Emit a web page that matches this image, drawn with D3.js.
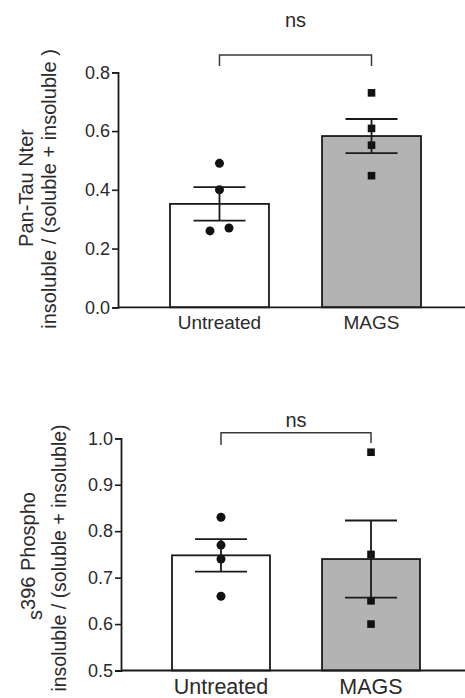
<html lang="en">
<head>
<style>
  body { margin: 0; background: #fff; }
  text { font-family: "Liberation Sans", Arial, sans-serif; fill: #2a2a2a; }
</style>
</head>
<body>
<script type='text/javascript' src='https://d3js.org/d3.v7.min.js'></script>
<script>
    // groups and values
    var groups = ["Untreated", "MAGS"];

    var panMeans = [0.352, 0.583];
    var panSem = [0.057, 0.058];
    var panPoints = [[0.49, 0.40, 0.26, 0.27], [0.73, 0.609, 0.552, 0.448]];
    var panTicks = [0.0, 0.2, 0.4, 0.6, 0.8];

    var phMeans = [0.748, 0.740];
    var phSem = [0.035, 0.083];
    var phPoints = [[0.83, 0.77, 0.74, 0.66], [0.97, 0.75, 0.65, 0.60]];
    var phTicks = [0.5, 0.6, 0.7, 0.8, 0.9, 1.0];

    var width = 465, height = 698;
    var svg = d3.select("body").append("svg")
        .attr("width", width)
        .attr("height", height);

    var barFill = ["#ffffff", "#b3b3b3"];

    function panel(opt) {
        var g = svg.append("g");
        var x = d3.scaleBand().domain(groups).range([opt.x0, opt.x1])
            .paddingInner(opt.padIn).paddingOuter(opt.padOut);
        var y = d3.scaleLinear().domain(opt.domain).range([opt.yBottom, opt.yTop]);

        // bars
        g.selectAll("rect.bar").data(groups).enter().append("rect")
            .attr("x", function(d) { return x(d); })
            .attr("width", x.bandwidth())
            .attr("y", function(d, i) { return y(opt.means[i]); })
            .attr("height", function(d, i) { return y(opt.domain[0]) - y(opt.means[i]); })
            .attr("fill", function(d, i) { return barFill[i]; })
            .attr("stroke", "#1a1a1a")
            .attr("stroke-width", 1.8);

        // points
        groups.forEach(function(grp, i) {
            var cx = x(grp) + x.bandwidth() / 2;
            var pts = opt.points[i];
            pts.forEach(function(v, j) {
                var dx = 0;
                if (opt.jitter && opt.jitter[i]) dx = opt.jitter[i][j];
                if (i == 0) {
                    g.append("circle").attr("cx", cx + dx).attr("cy", y(v)).attr("r", 4.5).attr("fill", "#111");
                } else {
                    g.append("rect").attr("x", cx + dx - 3.8).attr("y", y(v) - 3.8)
                        .attr("width", 7.6).attr("height", 7.6).attr("fill", "#111");
                }
            });
        });

        // error bars
        groups.forEach(function(grp, i) {
            var cx = x(grp) + x.bandwidth() / 2;
            var hi = y(opt.means[i] + opt.sem[i]), lo = y(opt.means[i] - opt.sem[i]);
            g.append("line").attr("x1", cx).attr("x2", cx).attr("y1", hi).attr("y2", lo)
                .attr("stroke", "#1a1a1a").attr("stroke-width", 1.8);
            [hi, lo].forEach(function(yy) {
                g.append("line").attr("x1", cx - 26).attr("x2", cx + 26).attr("y1", yy).attr("y2", yy)
                    .attr("stroke", "#1a1a1a").attr("stroke-width", 1.8);
            });
        });

        // y axis
        var yAxis = g.append("g")
            .attr("transform", "translate(" + opt.x0 + ",0)")
            .call(d3.axisLeft(y).tickValues(opt.ticks).tickFormat(d3.format(".1f")).tickSize(6).tickPadding(2));
        yAxis.select(".domain").attr("stroke", "#1a1a1a").attr("stroke-width", 1.8);
        yAxis.selectAll(".tick line").attr("stroke", "#1a1a1a").attr("stroke-width", 1.6);
        yAxis.selectAll(".tick text").style("font-size", opt.tickSize + "px")
            .style("font-family", "'Liberation Sans', Arial, sans-serif").attr("fill", "#333");

        // x axis baseline
        g.append("line").attr("x1", opt.x0).attr("x2", width).attr("y1", y(opt.domain[0])).attr("y2", y(opt.domain[0]))
            .attr("stroke", "#1a1a1a").attr("stroke-width", 1.8);

        g.selectAll("text.xl").data(groups).enter().append("text")
            .attr("x", function(d) { return x(d) + x.bandwidth() / 2; })
            .attr("y", opt.xLabelY)
            .attr("text-anchor", "middle")
            .style("font-size", opt.xLabelSize + "px")
            .text(function(d) { return d; });

        // significance bracket
        var c0 = x(groups[0]) + x.bandwidth() / 2, c1 = x(groups[1]) + x.bandwidth() / 2;
        g.append("path")
            .attr("d", "M" + c0 + "," + opt.bracketDrop[0] + "V" + opt.bracketY + "H" + c1 + "V" + opt.bracketDrop[1])
            .attr("fill", "none").attr("stroke", "#3a3a3a").attr("stroke-width", 1.5);
        g.append("text").attr("x", (c0 + c1) / 2).attr("y", opt.nsY)
            .attr("text-anchor", "middle").style("font-size", "20px").text("ns");

        return { x: x, y: y };
    }

    panel({
        x0: 118, x1: 473, padIn: 0.349, padOut: 0.342,
        domain: [0, 0.8], yBottom: 307.3, yTop: 72.3,
        means: panMeans, sem: panSem, points: panPoints, ticks: panTicks,
        jitter: [[0, 0, -9.5, 9.5], [0, 0, 0, 0]],
        tickSize: 18, xLabelY: 329, xLabelSize: 19,
        bracketY: 55, bracketDrop: [66, 66], nsY: 27
    });

    panel({
        x0: 121, x1: 471, padIn: 0.347, padOut: 0.34,
        domain: [0.5, 1.0], yBottom: 670.5, yTop: 438.3,
        means: phMeans, sem: phSem, points: phPoints, ticks: phTicks,
        tickSize: 18, xLabelY: 694, xLabelSize: 21.5,
        bracketY: 432.7, bracketDrop: [445, 443], nsY: 427
    });

    // y axis titles
    svg.append("text").attr("transform", "translate(33,188) rotate(-90)")
        .attr("text-anchor", "middle").style("font-size", "20px").text("Pan-Tau Nter");
    svg.append("text").attr("transform", "translate(56,189) rotate(-90)")
        .attr("text-anchor", "middle").style("font-size", "20px").text("insoluble / (soluble + insoluble )");

    var t2 = svg.append("text").attr("transform", "translate(42,556) rotate(-90)")
        .attr("text-anchor", "middle").style("font-size", "20px");
    t2.append("tspan").text("s");
    t2.append("tspan").attr("dy", "-0.33em").text("396 Phospho");
    svg.append("text").attr("transform", "translate(66,558) rotate(-90)")
        .attr("text-anchor", "middle").style("font-size", "19.5px").text("insoluble / (soluble + insoluble)");
</script>
</body>
</html>
